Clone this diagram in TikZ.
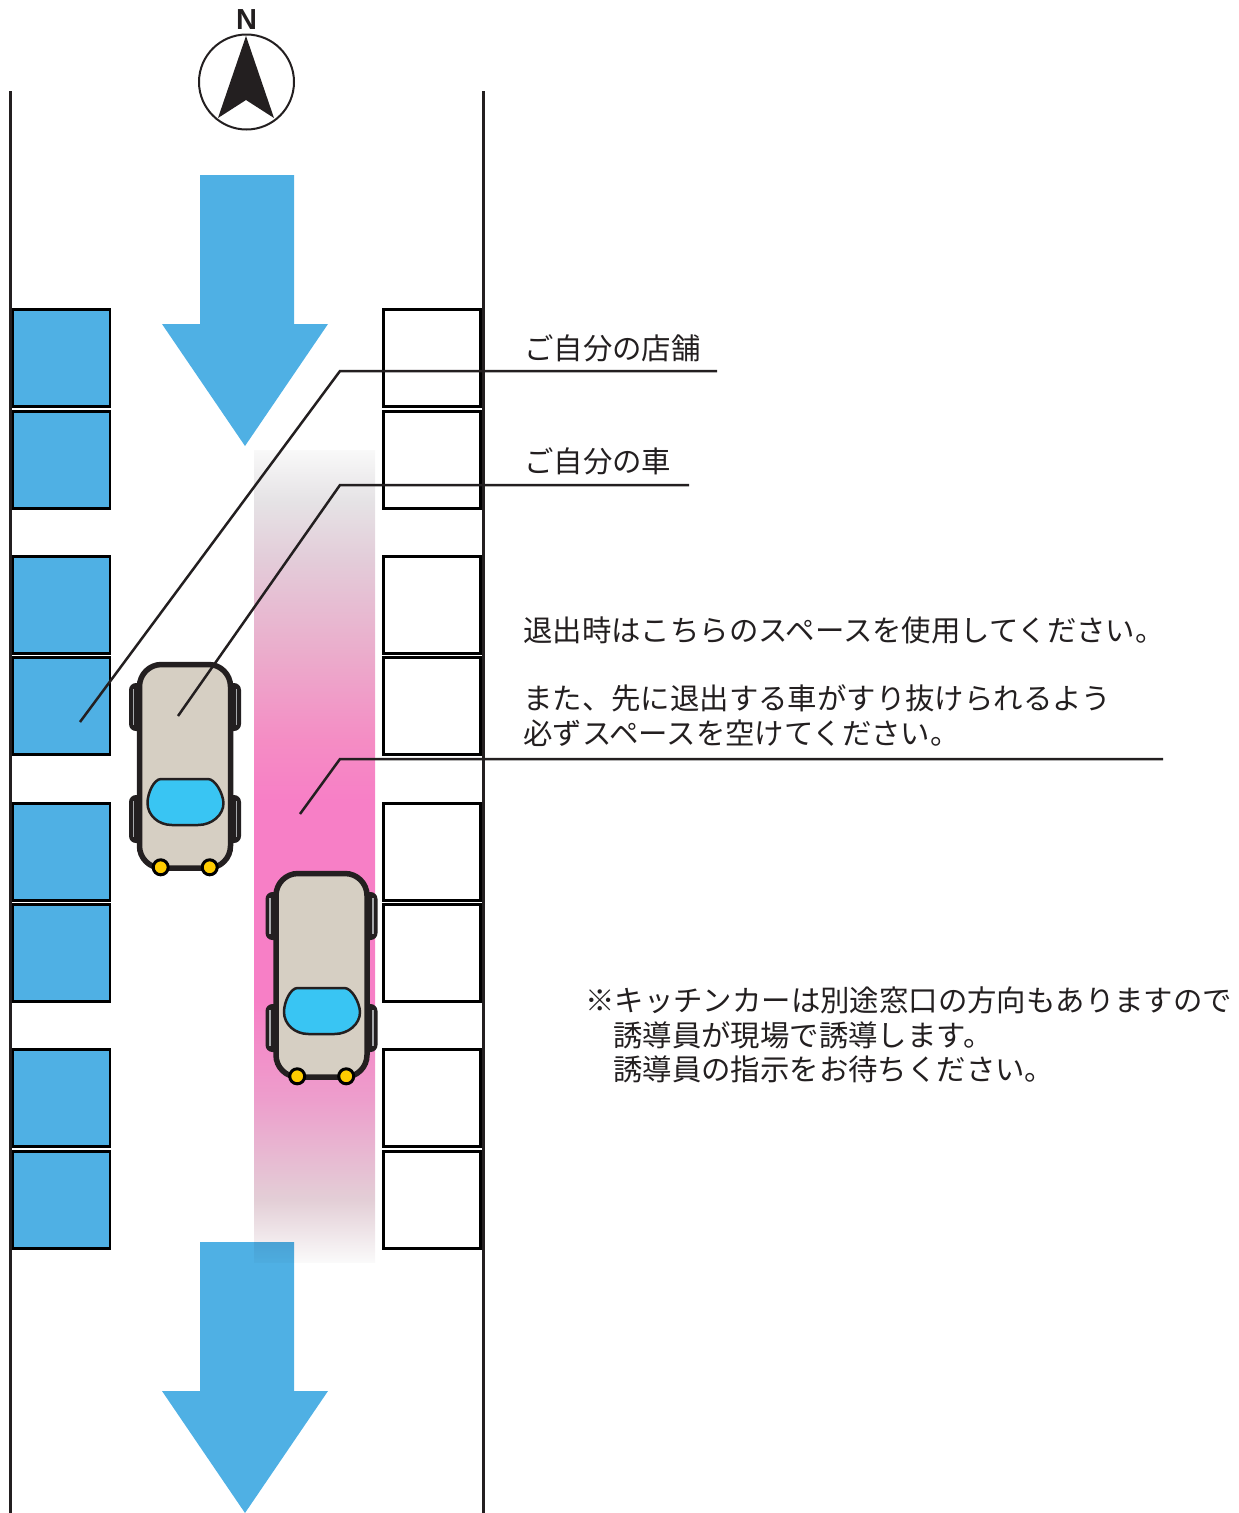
\documentclass[tikz,border=0pt]{standalone}
\usepackage{xcolor}
\usepackage{fontspec}
\usetikzlibrary{positioning}
\newfontfamily\jpfont{Noto Sans CJK JP}
\setsansfont{Liberation Sans}
\definecolor{inkdark}{HTML}{231F20}
\definecolor{stallblue}{HTML}{4FB0E4}
\definecolor{carbody}{HTML}{D6CFC3}
\definecolor{carglass}{HTML}{39C5F3}
\definecolor{carlamp}{HTML}{FFCC00}
\definecolor{carsliver}{HTML}{A7A9AC}
\pgfdeclareverticalshading{lanefade}{100bp}{
  rgb(0bp)=(1,1,1); rgb(25bp)=(.98,.98,.98); rgb(28.8bp)=(.89,.81,.84);
  rgb(35bp)=(.93,.62,.80); rgb(41.1bp)=(.969,.498,.776); rgb(53.4bp)=(.969,.498,.776);
  rgb(57.1bp)=(.96,.55,.77); rgb(62.7bp)=(.92,.68,.80); rgb(68.2bp)=(.89,.80,.85);
  rgb(71.9bp)=(.90,.89,.90); rgb(75bp)=(.975,.975,.975); rgb(100bp)=(1,1,1)}
\tikzset{
  stall/.style = {draw=black, line width=2.8pt, minimum width=97pt, minimum height=97pt, inner sep=0pt},
  leader/.style = {draw=inkdark, line width=2.5pt},
  roadedge/.style = {draw=inkdark, line width=2.7pt},
  note/.style = {anchor=base west, inner sep=0pt, text=inkdark, font=\jpfont\fontsize{29.4}{34}\selectfont},
  pics/car/.style = {code = {
      % side pieces first, the body covers their inner edge
      \foreach \ytop in {21, 133} {
        \draw[fill=inkdark, draw=none, rounded corners=7pt] (-8,\ytop) rectangle (8,\ytop+48);
        \draw[fill=inkdark, draw=none, rounded corners=7pt] (88,\ytop) rectangle (104,\ytop+48);
        \draw[carsliver, line width=1.2pt] (-3.5,\ytop+6) -- (-3.5,\ytop+42);
        \draw[carsliver, line width=1.2pt] (99.5,\ytop+6) -- (99.5,\ytop+42);
      }
      \draw[fill=carbody, draw=inkdark, line width=5.5pt, rounded corners=22pt] (2.5,2.5) rectangle (93.5,206);
      \draw[fill=carglass, draw=inkdark, line width=2.5pt, line join=round]
        (24,117) -- (71,117) .. controls (78,117) and (86,131) .. (86.5,141)
        .. controls (86.5,153) and (75,163) .. (61,163) -- (35,163)
        .. controls (21,163) and (10.5,153) .. (10.5,141)
        .. controls (10.5,131) and (17,117) .. (24,117) -- cycle;
      \draw[fill=carlamp, draw=black, line width=3pt] (23.7,205.3) circle (7.5);
      \draw[fill=carlamp, draw=black, line width=3pt] (72.7,205.3) circle (7.5);
  }},
  pics/flowarrow/.style = {code = {
      \fill[stallblue] (-45,0) -- (49,0) -- (49,149) -- (83,149) -- (0,#1) -- (-83,149) -- (-45,149) -- cycle;
  }}
}

\begin{document}
\begin{tikzpicture}[x=1pt, y=-1pt]
  \useasboundingbox (0,0) rectangle (1239,1513);

  % road edges
  \coordinate (roadLtop) at (10.6,91);
  \coordinate (roadLend) at (10.6,1513);
  \coordinate (roadRtop) at (483.6,91);
  \coordinate (roadRend) at (483.6,1513);
  \draw[roadedge] (roadLtop) -- (roadLend);
  \draw[roadedge] (roadRtop) -- (roadRend);

  % north mark
  \node[font=\sffamily\bfseries\fontsize{29}{29}\selectfont, text=inkdark, inner sep=0pt] (northlabel) at (246.5,20) {N};
  \draw[inkdark, line width=2pt] (246.5,82) circle (47.5);
  \fill[inkdark] (246,36) -- (274,118) -- (246,100) -- (218,118) -- cycle;

  % flow arrows
  \pic at (245,175) {flowarrow=271};
  \pic at (245,1242) {flowarrow=271};

  % parking stalls
  \foreach \row/\ypos in {1/357.7, 2/459.7, 3/604.7, 4/705.7, 5/851.7, 6/952.7, 7/1097.7, 8/1199.7} {
    \node[stall, fill=stallblue] (stallL\row) at (61.5,\ypos) {};
    \node[stall, fill=white] (stallR\row) at (432,\ypos) {};
  }

  % exit lane
  \path[shading=lanefade, blend mode=multiply] (254,450) rectangle (375,1262);

  % cars
  \pic at (137,662) {car};
  \pic at (273.5,871) {car};

  % leader lines
  \coordinate (shopEnd) at (80,722);
  \coordinate (shopBend) at (340,371);
  \coordinate (shopTail) at (717,371);
  \coordinate (carEnd) at (178,716);
  \coordinate (carBend) at (340,485);
  \coordinate (carTail) at (689,485);
  \coordinate (laneEnd) at (300,814);
  \coordinate (laneBend) at (340,759);
  \coordinate (laneTail) at (1163,759);
  \draw[leader] (shopEnd) -- (shopBend) -- (shopTail);
  \draw[leader] (carEnd) -- (carBend) -- (carTail);
  \draw[leader] (laneEnd) -- (laneBend) -- (laneTail);

  % texts
  \node[note] (shoplabel) at (524,359) {ご自分の店舗};
  \node[note] (carlabel) at (524,472) {ご自分の車};
  \node[note] (exitone) at (523,641) {退出時はこちらのスペースを使用してください。};
  \node[note] (exittwo) at (523,709) {また、先に退出する車がすり抜けられるよう};
  \node[note] (exitthree) at (523,744) {必ずスペースを空けてください。};
  \node[note] (kitchenone) at (585,1011) {※キッチンカーは別途窓口の方向もありますので};
  \node[note] (kitchentwo) at (613,1046) {誘導員が現場で誘導します。};
  \node[note] (kitchenthree) at (613,1080) {誘導員の指示をお待ちください。};
\end{tikzpicture}
\end{document}
